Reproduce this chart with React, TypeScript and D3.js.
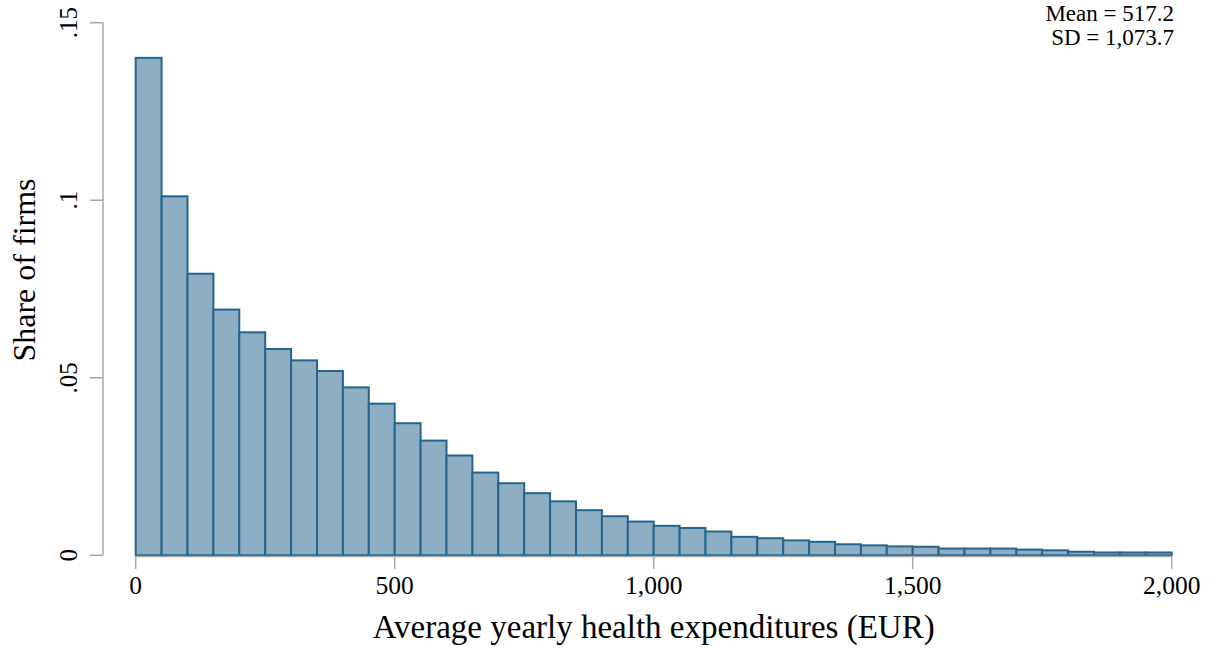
import React from 'react';
import * as d3 from 'd3';

// histogram of average yearly health expenditures, bins of 50 EUR
const binStarts = d3.range(0, 2000, 50);
const shares = [
  0.1401, 0.1011, 0.0793, 0.0692, 0.0628, 0.0581, 0.0549, 0.0519, 0.0473, 0.0427,
  0.0372, 0.0323, 0.0281, 0.0233, 0.0203, 0.0175, 0.0152, 0.0127, 0.011, 0.0095,
  0.0083, 0.0077, 0.0067, 0.0052, 0.0048, 0.0042, 0.0038, 0.0031, 0.0028, 0.0025,
  0.0024, 0.0019, 0.0019, 0.0019, 0.0016, 0.0014, 0.001, 0.0008, 0.0008, 0.0008,
];
const xTicks = [0, 500, 1000, 1500, 2000];
const yTicks = [0, 0.05, 0.1, 0.15];
const yTickLabels = ['0', '.05', '.1', '.15'];
const statLines = ['Mean = 517.2', 'SD = 1,073.7'];

const W = 1212;
const H = 649;
const font = '"Liberation Serif", "Times New Roman", serif';
const axisColor = '#a6a6a6';
const barFill = '#8eafc3';
const barStroke = '#246590';

export default function App() {
  const x = d3.scaleLinear().domain([0, 2000]).range([135.7, 1171.7]);
  const y = d3.scaleLinear().domain([0, 0.15]).range([555.3, 22.7]);
  const binW = 50;

  return (
    <svg
      width={W}
      height={H}
      style={{position: 'absolute', left: 0, top: 0, background: '#fff'}}
      fontFamily={font}>
      {/* bars */}
      {binStarts.map((b, i) => (
        <rect
          key={b}
          x={x(b)}
          y={y(shares[i])}
          width={x(b + binW) - x(b)}
          height={y(0) - y(shares[i])}
          fill={barFill}
          stroke={barStroke}
          strokeWidth={2}
        />
      ))}

      {/* y axis */}
      <line x1={103} x2={103} y1={y(0.15)} y2={y(0)} stroke={axisColor} strokeWidth={1.5} />
      {yTicks.map((t, i) => (
        <g key={t} transform={`translate(0, ${y(t)})`}>
          <line x1={90} x2={103} stroke={axisColor} strokeWidth={1.5} />
          <text
            transform="translate(77, 0) rotate(-90)"
            textAnchor="middle"
            fontSize={25}
            fill="#000">
            {yTickLabels[i]}
          </text>
        </g>
      ))}
      <text
        transform="translate(35, 270) rotate(-90)"
        textAnchor="middle"
        fontSize={32}
        fill="#000">
        Share of firms
      </text>

      {/* x axis */}
      <line x1={x(0)} x2={x(2000)} y1={556.5} y2={556.5} stroke={axisColor} strokeWidth={1.5} />
      {xTicks.map((t) => (
        <g key={t} transform={`translate(${x(t)}, 0)`}>
          <line y1={556.5} y2={569} stroke={axisColor} strokeWidth={1.5} />
          <text y={594} textAnchor="middle" fontSize={25.5} fill="#000">
            {d3.format(',')(t)}
          </text>
        </g>
      ))}
      <text
        x={(x(0) + x(2000)) / 2}
        y={638}
        textAnchor="middle"
        fontSize={33}
        fill="#000">
        Average yearly health expenditures (EUR)
      </text>

      {/* summary stats */}
      {statLines.map((s, i) => (
        <text key={s} x={1174} y={21 + i * 24} textAnchor="end" fontSize={23} fill="#000">
          {s}
        </text>
      ))}
    </svg>
  );
}
